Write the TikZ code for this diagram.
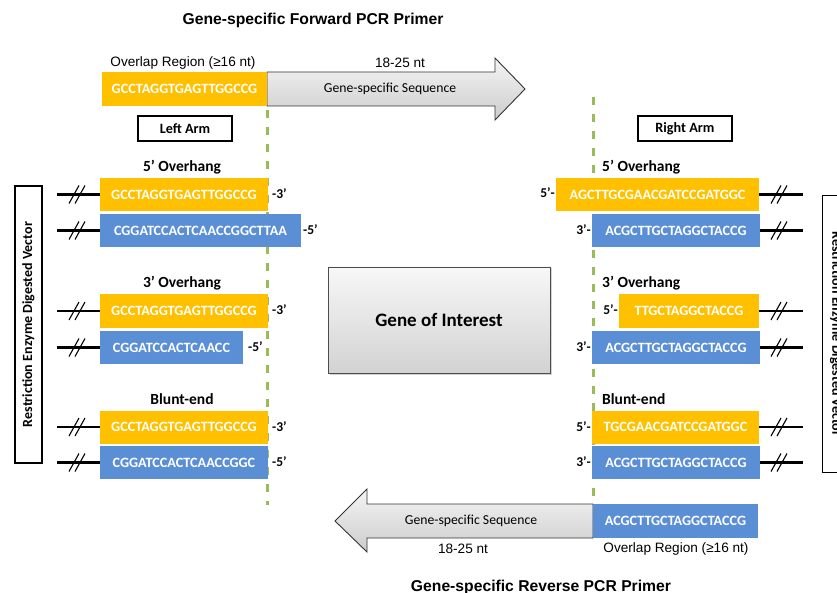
\documentclass[tikz,border=0pt]{standalone}
\usepackage{fontspec}
\setmainfont{Liberation Sans}
\newfontfamily\calfont{Carlito}
\usetikzlibrary{shadows}
\definecolor{orng}{HTML}{FFC000}
\definecolor{blu}{HTML}{5B8FD5}
\definecolor{grn}{HTML}{9BBB59}
\begin{document}
\begin{tikzpicture}[x=1pt,y=-1pt,
  seq/.style={inner sep=0, minimum height=33pt, text=white, font=\calfont\bfseries\fontsize{14.2}{15}\selectfont},
  ob/.style={seq, fill=orng},
  bb/.style={seq, fill=blu},
  lab/.style={font=\calfont\bfseries\fontsize{15.5}{16}\selectfont, inner sep=0},
  endlab/.style={font=\calfont\bfseries\fontsize{13.5}{14}\selectfont, inner sep=0},
  arial/.style={font=\fontsize{13.6}{15}\selectfont, inner sep=0},
  title/.style={font=\bfseries\fontsize{15.7}{17}\selectfont, inner sep=0},
  vline/.style={line width=2.2pt},
  slashln/.style={line width=1.1pt},
  armbox/.style={draw, line width=1.6pt, minimum width=94pt, minimum height=25pt, inner sep=0, font=\calfont\bfseries\fontsize{14.2}{15}\selectfont},
  vecbox/.style={draw, line width=1.6pt, minimum width=277pt, minimum height=27pt, inner sep=0, font=\calfont\bfseries\fontsize{14}{15}\selectfont},
  gdash/.style={grn, line width=3pt, dash pattern=on 8pt off 9pt},
  arrowfill/.style={top color=gray!8, bottom color=gray!40, draw=black!80, line width=0.9pt},
  gsq/.style={font=\calfont\fontsize{13.7}{15}\selectfont, inner sep=0}
]
\useasboundingbox (0,0) rectangle (837,593);

% titles
\node[title] (t1) at (313,20) {Gene-specific Forward PCR Primer};
\node[title] (t2) at (541,587) {Gene-specific Reverse PCR Primer};

% dashed guide lines
\coordinate (dl1) at (267,110);
\coordinate (dl2) at (267,505);
\coordinate (dr1) at (593,97);
\coordinate (dr2) at (593,503);
\draw[gdash] (dl1) -- (dl2);
\draw[gdash] (dr1) -- (dr2);

% forward primer
\node[arial] (ovl1) at (183,63) {Overlap Region (≥16 nt)};
\node[arial] (nt1) at (400,63) {18-25 nt};
\shade[arrowfill] (267,72) -- (495,72) -- (495,58) -- (525,89) -- (495,120) -- (495,106) -- (267,106) -- cycle;
\node[ob, minimum width=165pt, minimum height=34pt] (fp) at (184.5,89) {GCCTAGGTGAGTTGGCCG};
\node[gsq] (gs1) at (390,89) {Gene-specific Sequence};

% reverse primer
\shade[arrowfill] (593,504) -- (367,504) -- (367,489) -- (335,521) -- (367,552) -- (367,538) -- (593,538) -- cycle;
\node[bb, minimum width=165pt, minimum height=34pt] (rp) at (675.5,521) {ACGCTTGCTAGGCTACCG};
\node[gsq] (gs2) at (471,521) {Gene-specific Sequence};
\node[arial] (nt2) at (463,549) {18-25 nt};
\node[arial] (ovl2) at (676,549) {Overlap Region (≥16 nt)};

% arm boxes
\node[armbox] (la) at (185,128.5) {Left Arm};
\node[armbox] (ra) at (685,128.5) {Right Arm};

% vector boxes
\node[vecbox, rotate=90] (vl) at (28.5,324.5) {Restriction Enzyme Digested Vector};
\node[vecbox, rotate=-90] (vr) at (836,334) {Restriction Enzyme Digested Vector};

% gene of interest
\node[draw=black!70, line width=0.9pt, top color=gray!6, bottom color=gray!35, drop shadow={opacity=0.35, shadow xshift=1.5pt, shadow yshift=-1.5pt}, minimum width=222pt, minimum height=106pt, font=\calfont\bfseries\fontsize{19}{20}\selectfont] (goi) at (439,320) {Gene of Interest};

% ---------- left arm ----------
\node[lab] (l5) at (182,167) {5’ Overhang};
\node[ob, minimum width=168pt] (lo1) at (184,194.5) {GCCTAGGTGAGTTGGCCG};
\node[bb, minimum width=201pt] (lb1) at (200.5,230.5) {CGGATCCACTCAACCGGCTTAA};
\node[endlab, anchor=west] (le1) at (272,194) {-3’};
\node[endlab, anchor=west] (le2) at (303,230) {-5’};

\node[lab] (l3) at (182,283) {3’ Overhang};
\node[ob, minimum width=168pt] (lo2) at (184,311) {GCCTAGGTGAGTTGGCCG};
\node[bb, minimum width=143pt] (lb2) at (171.5,347.5) {CGGATCCACTCAACC};
\node[endlab, anchor=west] (le3) at (272,310) {-3’};
\node[endlab, anchor=west] (le4) at (248,347) {-5’};

\node[lab] (lbl) at (182,399) {Blunt-end};
\node[ob, minimum width=168pt] (lo3) at (184,427) {GCCTAGGTGAGTTGGCCG};
\node[bb, minimum width=168pt] (lb3) at (184,462.5) {CGGATCCACTCAACCGGC};
\node[endlab, anchor=west] (le5) at (272,427) {-3’};
\node[endlab, anchor=west] (le6) at (272,462) {-5’};

\foreach \n/\y in {lo1/194.5, lb1/230.5, lo2/311, lb2/347.5, lo3/427, lb3/462.5}{
  \coordinate (s\n) at (57,\y);
  \draw[vline] (s\n) -- (\n.west |- s\n);
  \draw[slashln] (69,\y+9) -- (79,\y-9);
  \draw[slashln] (75,\y+9) -- (85,\y-9);
}

% ---------- right arm ----------
\node[lab, anchor=west] (r5) at (602,167) {5’ Overhang};
\node[ob, minimum width=203pt] (ro1) at (657.5,194.5) {AGCTTGCGAACGATCCGATGGC};
\node[bb, minimum width=168pt] (rb1) at (676,230.5) {ACGCTTGCTAGGCTACCG};
\node[endlab, anchor=east] (re1) at (555,193) {5’-};
\node[endlab, anchor=east] (re2) at (591,230) {3’-};

\node[lab, anchor=west] (r3) at (602,283) {3’ Overhang};
\node[ob, minimum width=140pt] (ro2) at (689,311) {TTGCTAGGCTACCG};
\node[bb, minimum width=168pt] (rb2) at (676,347.5) {ACGCTTGCTAGGCTACCG};
\node[endlab, anchor=east] (re3) at (618,310) {5’-};
\node[endlab, anchor=east] (re4) at (591,347) {3’-};

\node[lab, anchor=west] (rbl) at (602,399) {Blunt-end};
\node[ob, minimum width=167pt] (ro3) at (675.5,427) {TGCGAACGATCCGATGGC};
\node[bb, minimum width=168pt] (rb3) at (676,462.5) {ACGCTTGCTAGGCTACCG};
\node[endlab, anchor=east] (re5) at (591,427) {5’-};
\node[endlab, anchor=east] (re6) at (591,462) {3’-};

\foreach \n/\y in {ro1/194.5, rb1/230.5, ro2/311, rb2/347.5, ro3/427, rb3/462.5}{
  \coordinate (e\n) at (803,\y);
  \draw[vline] (\n.east |- e\n) -- (e\n);
  \draw[slashln] (771,\y+9) -- (781,\y-9);
  \draw[slashln] (777,\y+9) -- (787,\y-9);
}
\end{tikzpicture}
\end{document}
